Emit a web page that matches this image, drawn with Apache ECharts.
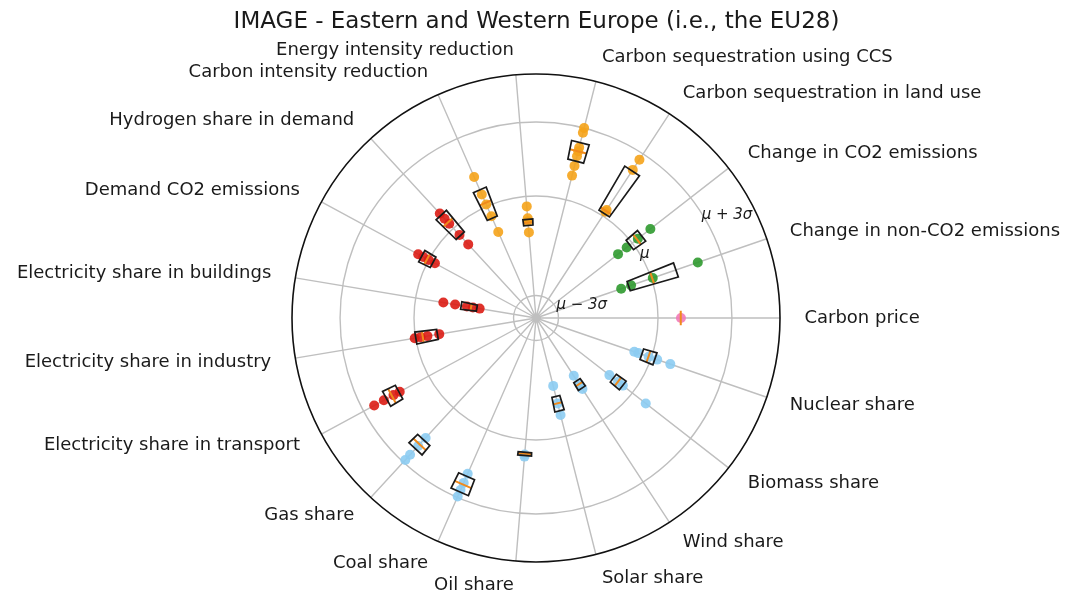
<!DOCTYPE html>
<html>
<head>
<meta charset="utf-8">
<script src="https://cdn.jsdelivr.net/npm/echarts@6/dist/echarts.min.js"></script>
<style>
  html, body { margin: 0; padding: 0; background: #fff; }
  #main { width: 1073px; height: 596px; }
</style>
</head>
<body>
<div id="main"></div>
<script>
// spokes, counter-clockwise from the right
const categories = [
  'Carbon price', 'Change in non-CO2 emissions', 'Change in CO2 emissions',
  'Carbon sequestration in land use', 'Carbon sequestration using CCS',
  'Energy intensity reduction', 'Carbon intensity reduction',
  'Hydrogen share in demand', 'Demand CO2 emissions',
  'Electricity share in buildings', 'Electricity share in industry',
  'Electricity share in transport', 'Gas share', 'Coal share', 'Oil share',
  'Solar share', 'Wind share', 'Biomass share', 'Nuclear share'
];
// colour group of each spoke
const spokeGroup = ['pink', 'green', 'green', 'orange', 'orange', 'orange', 'orange',
  'red', 'red', 'red', 'red', 'red', 'blue', 'blue', 'blue', 'blue', 'blue', 'blue', 'blue'];

// model values per spoke (radial scale: 0 = centre, 1 = outer edge)
const pointValues = [
  [0.594],
  [0.369, 0.412, 0.506, 0.701],
  [0.426, 0.471, 0.529, 0.594],
  [0.520, 0.529, 0.725, 0.775],
  [0.602, 0.643, 0.684, 0.705, 0.721, 0.783, 0.803],
  [0.352, 0.398, 0.410, 0.459],
  [0.385, 0.455, 0.508, 0.553, 0.631],
  [0.410, 0.463, 0.525, 0.553, 0.582],
  [0.471, 0.500, 0.525, 0.549],
  [0.234, 0.262, 0.287, 0.336, 0.385],
  [0.402, 0.451, 0.480, 0.504],
  [0.635, 0.664, 0.709, 0.754],
  [0.668, 0.713, 0.762, 0.791],
  [0.697, 0.738, 0.770, 0.799],
  [0.561, 0.570],
  [0.287, 0.361, 0.410],
  [0.283, 0.324, 0.348],
  [0.381, 0.426, 0.451, 0.570],
  [0.426, 0.443, 0.488, 0.525, 0.582]
];
// boxes (lower / upper quartile) and medians
const boxLow =    [0.594, 0.402, 0.488, 0.512, 0.664, 0.381, 0.447, 0.459, 0.480, 0.246, 0.410, 0.639, 0.680, 0.709, 0.553, 0.332, 0.307, 0.402, 0.459];
const boxHigh =   [0.594, 0.607, 0.549, 0.721, 0.742, 0.406, 0.574, 0.574, 0.533, 0.311, 0.500, 0.697, 0.730, 0.779, 0.566, 0.393, 0.344, 0.451, 0.516];
const boxMedian = [0.594, 0.504, 0.525, 0.525, 0.705, 0.393, 0.516, 0.533, 0.508, 0.270, 0.471, 0.672, 0.705, 0.746, 0.559, 0.361, 0.324, 0.426, 0.488];

// reference circles
const ringLevels = [0.092, 0.5, 0.803];
const ringLabels = ['μ − 3σ', 'μ', 'μ + 3σ'];

const groupColors = {
  orange: '#f5a31a', red: '#dc1c14', green: '#2f9a2f', blue: '#8cccf2', pink: '#f27ab8'
};

const CX = 536, CY = 318, R = 244;
const halfAngle = 0.05;      // half width of a box, radians
const gridColor = '#bfbfbf';
const font = 'DejaVu Sans';

var myChart = echarts.init(document.getElementById('main'));

var polars = [{ center: [CX, CY], radius: R }];
var angleAxes = [{
  polarIndex: 0,
  type: 'category',
  data: categories,
  boundaryGap: false,
  startAngle: 0,
  clockwise: false,
  axisLine: { show: false },
  axisTick: { show: false },
  axisLabel: { show: false, interval: 0 },
  splitLine: { show: true, interval: 0, lineStyle: { color: gridColor, width: 1.4 } }
}];
var radiusAxes = [{
  polarIndex: 0, type: 'value', min: 0, max: 1,
  axisLine: { show: false }, axisTick: { show: false },
  axisLabel: { show: false }, splitLine: { show: false }
}];
// grey reference circles plus the black outer frame
ringLevels.concat([1]).forEach(function (lv, k) {
  var outer = lv === 1;
  polars.push({ center: [CX, CY], radius: R * lv });
  angleAxes.push({
    polarIndex: k + 1, type: 'value', startAngle: 0, z: outer ? 6 : 0,
    axisLine: { lineStyle: { color: outer ? '#111' : gridColor, width: outer ? 1.6 : 1.4 } },
    axisTick: { show: false }, axisLabel: { show: false }, splitLine: { show: false }
  });
  radiusAxes.push({ polarIndex: k + 1, show: false });
});

var series = [];

// points, one series per colour group
Object.keys(groupColors).forEach(function (g) {
  var data = [];
  categories.forEach(function (c, i) {
    if (spokeGroup[i] !== g) return;
    pointValues[i].forEach(function (v) { data.push([v, i]); });
  });
  series.push({
    type: 'scatter', coordinateSystem: 'polar', polarIndex: 0,
    symbolSize: 10, z: 3,
    itemStyle: { color: groupColors[g], opacity: 0.9 },
    data: data
  });
});

// boxes and medians
series.push({
  type: 'custom', coordinateSystem: 'polar', polarIndex: 0, z: 4,
  data: categories.map(function (c, i) { return [boxLow[i], i, boxHigh[i], boxMedian[i]]; }),
  renderItem: function (params, api) {
    var i = api.value(1);
    var c = api.coord([0, i]);
    function corner(r, s) {
      var p = api.coord([r, i]);
      var vx = p[0] - c[0], vy = p[1] - c[1];
      var cs = Math.cos(s * halfAngle), sn = Math.sin(s * halfAngle);
      return [c[0] + vx * cs - vy * sn, c[1] + vx * sn + vy * cs];
    }
    var lo = api.value(0), hi = api.value(2), md = api.value(3);
    var m1 = corner(md, -1), m2 = corner(md, 1);
    var children = [{
      type: 'line', shape: { x1: m1[0], y1: m1[1], x2: m2[0], y2: m2[1] },
      style: { stroke: '#f08a1c', lineWidth: 2 }, z2: 2
    }];
    if (hi > lo) {
      children.push({
        type: 'polygon',
        shape: { points: [corner(lo, -1), corner(hi, -1), corner(hi, 1), corner(lo, 1)] },
        style: { fill: 'none', stroke: '#1a1a1a', lineWidth: 1.7 }, z2: 3
      });
    }
    return { type: 'group', children: children };
  }
});

// spoke labels
series.push({
  type: 'custom', coordinateSystem: 'polar', polarIndex: 0, z: 5, silent: true, clip: false,
  data: categories.map(function (c, i) { return [1.1, i]; }),
  renderItem: function (params, api) {
    var i = api.value(1);
    var c = api.coord([0, i]);
    var p = api.coord([api.value(0), i]);
    return {
      type: 'text',
      style: {
        text: categories[params.dataIndex],
        x: p[0], y: p[1],
        align: p[0] >= c[0] ? 'left' : 'right', verticalAlign: 'middle',
        fill: '#1a1a1a', fontSize: 18, fontFamily: font
      }
    };
  }
});

// circle labels
var ringLabelShift = [[25, -4], [-4, -17], [10, -28]];
series.push({
  type: 'custom', coordinateSystem: 'polar', polarIndex: 0, z: 5, silent: true,
  data: [[0, 0]],
  renderItem: function (params, api) {
    var c = api.coord([0, 0]);
    var a = 22.5 * Math.PI / 180;
    return {
      type: 'group',
      children: ringLevels.map(function (lv, k) {
        var rp = api.coord([lv, 0])[0] - c[0];
        return {
          type: 'text',
          style: {
            text: ringLabels[k],
            x: c[0] + rp * Math.cos(a) + ringLabelShift[k][0],
            y: c[1] - rp * Math.sin(a) + ringLabelShift[k][1],
            align: 'center', verticalAlign: 'middle',
            fill: '#1a1a1a', fontSize: 15, fontStyle: 'italic', fontFamily: font
          }
        };
      })
    };
  }
});

var option = {
  animation: false,
  title: {
    text: 'IMAGE - Eastern and Western Europe (i.e., the EU28)',
    left: 'center', top: 6,
    textStyle: { fontFamily: font, fontSize: 23, fontWeight: 'normal', color: '#1a1a1a' }
  },
  polar: polars,
  angleAxis: angleAxes,
  radiusAxis: radiusAxes,
  series: series
};

myChart.setOption(option);
</script>
</body>
</html>
